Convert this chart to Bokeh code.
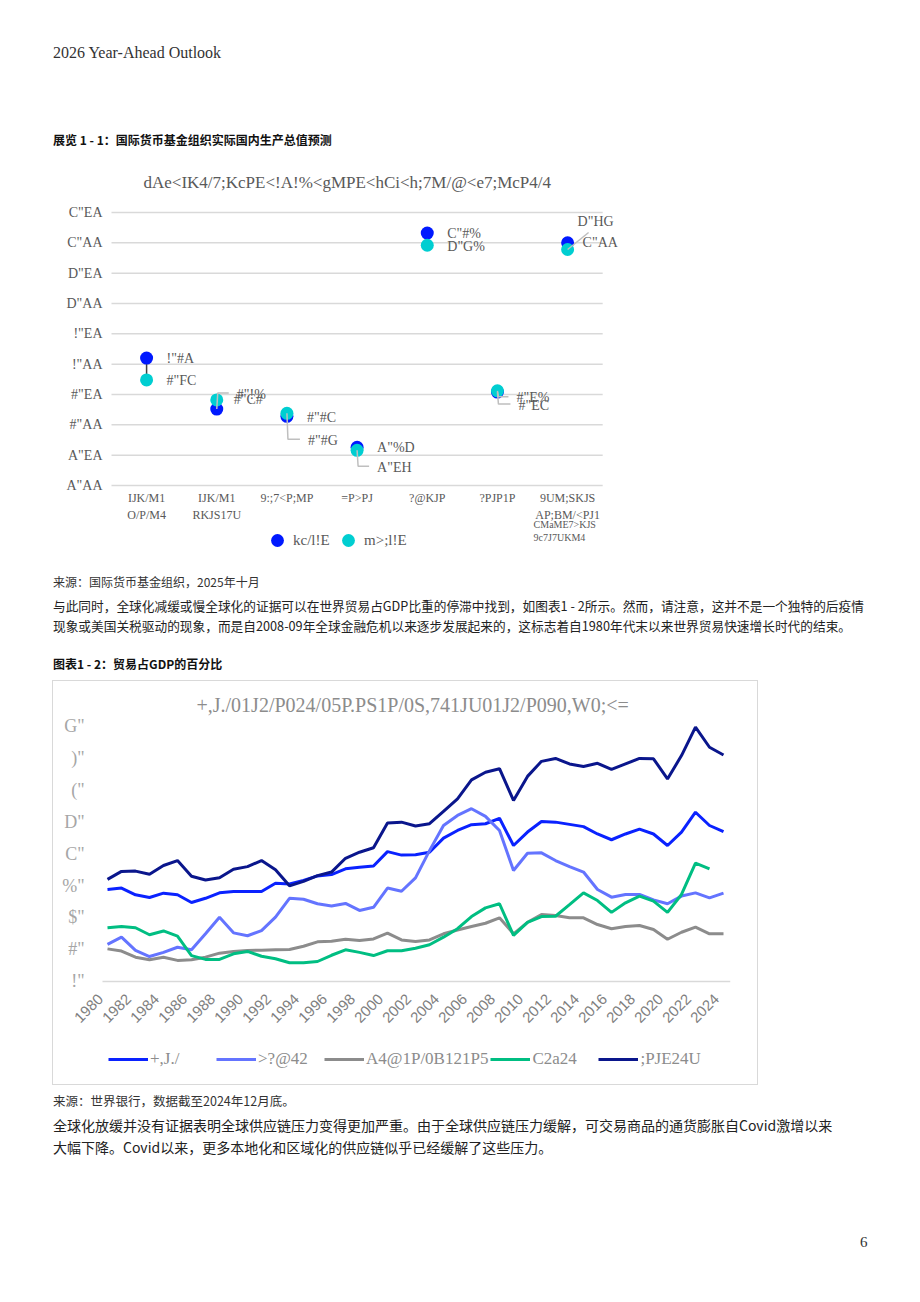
import math
from html import escape

from bokeh.core.properties import value
from bokeh.embed import file_html
from bokeh.layouts import column, row
from bokeh.models import (Div, FixedTicker, Legend, LegendItem, Range1d, Spacer,
                          Title)
from bokeh.plotting import figure
from bokeh.resources import INLINE

# ---------------------------------------------------------------------------
# Exhibit 1-1: IMF real GDP forecasts (two series per economy)
# ---------------------------------------------------------------------------
GDP_TITLE = 'dAe<IK4/7;KcPE<!A!%<gMPE<hCi<h;7M/@<e7;McP4/4'
GDP_CATEGORIES = ["IJK/M1\nO/P/M4", "IJK/M1\nRKJS17U", "9:;7<P;MP", "=P>PJ",
                  "?@KJP", "?PJP1P", "9UM;SKJS\nAP;BM/<PJ1"]
GDP_CATEGORY_NOTE = ["CMaME7>KJS", "9c7J7UKM4"]
GDP_SERIES_NAMES = ["kc/l!E", "m>;l!E"]
GDP_SERIES_A = [2.10, 1.26, 1.14, 0.63, 4.16, 1.54, 4.00]
GDP_SERIES_B = [1.74, 1.41, 1.19, 0.58, 3.96, 1.56, 3.89]
GDP_Y_TICKS = [0.0, 0.5, 1.0, 1.5, 2.0, 2.5, 3.0, 3.5, 4.0, 4.5]

# digits are shown through the report's symbol font encoding
DIGIT_GLYPHS = str.maketrans("0123456789.", 'A#!DCE%FHG"')


def glyph_number(v):
    return f"{v:.2f}".translate(DIGIT_GLYPHS)


# ---------------------------------------------------------------------------
# Exhibit 1-2: trade as a share of GDP
# ---------------------------------------------------------------------------
TRADE_TITLE = "+,J./01J2/P024/05P.PS1P/0S,741JU01J2/P090,W0;<="
YEARS = list(range(1980, 2025))
TRADE_NAMES = ["+,J./", ">?@42", "A4@1P/0B121P5", "C2a24", ";PJE24U"]
TRADE_SERIES_1 = [28.75, 29.2, 27.1, 26.25, 27.6, 27.1, 24.7, 26.0, 27.7, 28.1,
                  28.1, 28.1, 30.7, 30.5, 31.6, 33.0, 33.4, 35.2, 35.7, 36.1,
                  40.6, 39.5, 39.6, 40.4, 44.8, 47.2, 49.0, 49.3, 51.0, 42.5,
                  46.7, 50.0, 49.8, 49.1, 48.4, 46.1, 44.3, 46.1, 47.6, 46.1,
                  42.5, 46.7, 52.9, 48.75, 46.8]
TRADE_SERIES_2 = [11.6, 13.85, 9.7, 7.8, 9.1, 10.7, 9.9, 14.9, 20.1, 15.2,
                  14.3, 15.9, 20.1, 26.0, 25.7, 24.3, 23.6, 24.4, 22.2, 23.2,
                  29.2, 28.2, 32.4, 40.9, 48.75, 51.9, 54.0, 51.6, 47.2, 34.7,
                  40.1, 40.2, 37.8, 35.9, 34.2, 28.75, 26.35, 27.2, 27.2, 25.5,
                  24.3, 26.7, 27.7, 26.15, 27.6]
TRADE_SERIES_3 = [10.2, 9.5, 7.6, 6.8, 7.6, 6.6, 6.8, 7.6, 8.85, 9.4,
                  9.7, 9.8, 9.9, 10.0, 11.0, 12.4, 12.6, 13.2, 12.8, 13.3,
                  15.1, 13.0, 12.5, 13.0, 14.9, 16.1, 17.2, 18.2, 19.9, 14.9,
                  18.5, 20.9, 20.6, 19.9, 19.9, 17.8, 16.5, 17.2, 17.5, 16.25,
                  13.2, 15.4, 17.0, 14.9, 14.9]
TRADE_SERIES_4 = [16.8, 17.2, 16.8, 14.6, 15.8, 14.2, 8.1, 6.9, 6.9, 8.65,
                  9.4, 7.9, 7.1, 5.85, 5.85, 6.25, 8.2, 9.9, 9.1, 8.1,
                  9.6, 9.6, 10.4, 11.5, 13.85, 16.5, 20.3, 23.0, 24.3, 14.4,
                  18.5, 20.3, 20.4, 24.0, 27.7, 25.3, 21.6, 24.6, 26.7, 25.1,
                  21.6, 27.2, 37.0, 35.2]
TRADE_SERIES_5 = [31.9, 34.4, 34.5, 33.5, 36.25, 37.8, 32.9, 31.7, 32.4, 35.1,
                  35.9, 37.8, 34.9, 29.9, 31.3, 33.1, 34.2, 38.5, 40.4, 41.8,
                  49.5, 49.8, 48.6, 49.3, 53.2, 57.1, 63.0, 65.4, 66.5, 56.6,
                  64.1, 68.8, 69.7, 68.0, 67.2, 68.2, 66.3, 68.0, 69.7, 69.6,
                  63.3, 70.6, 79.5, 73.2, 70.8]
TRADE_Y_TICKS = [0, 10, 20, 30, 40, 50, 60, 70, 80]
TRADE_Y_LABELS = ['!"', '#"', '$"', '%"', 'C"', 'D"', '("', ')"', 'G"']
TRADE_X_TICKS = list(range(1980, 2025, 2))

# ---------------------------------------------------------------------------
# Page texts
# ---------------------------------------------------------------------------
PAGE_HEADER = "2026 Year-Ahead Outlook"
EXHIBIT_1_TITLE = "展览 1 - 1：国际货币基金组织实际国内生产总值预测"
EXHIBIT_1_SOURCE = "来源：国际货币基金组织，2025年十月"
PARAGRAPH_1 = ["与此同时，全球化减缓或慢全球化的证据可以在世界贸易占GDP比重的停滞中找到，如图表1 - 2所示。然而，请注意，这并不是一个独特的后疫情",
               "现象或美国关税驱动的现象，而是自2008-09年全球金融危机以来逐步发展起来的，这标志着自1980年代末以来世界贸易快速增长时代的结束。"]
EXHIBIT_2_TITLE = "图表1 - 2：贸易占GDP的百分比"
EXHIBIT_2_SOURCE = "来源：世界银行，数据截至2024年12月底。"
PARAGRAPH_2 = ["全球化放缓并没有证据表明全球供应链压力变得更加严重。由于全球供应链压力缓解，可交易商品的通货膨胀自Covid激增以来",
               "大幅下降。Covid以来，更多本地化和区域化的供应链似乎已经缓解了这些压力。"]
PAGE_NUMBER = "6"

W = 920
CJK = "Noto Sans CJK SC"
SERIF = "Liberation Serif"
PAGE_LEFT = 53           # left margin of the page body
CHART_W = 704            # width of each exhibit block
RULE = "#D9D9D9"


def text_block(height, lines):
    """Absolutely positioned lines of page text: (x, y_centre, text, size, bold, font, colour)."""
    parts = [f'<div style="position:relative;width:{W}px;height:{height}px;margin:0;padding:0;">']
    for x, y, s, size, bold, font, col in lines:
        parts.append(
            f'<div style="position:absolute;left:{x}px;top:{y - 10}px;height:20px;'
            f'line-height:20px;font-size:{size};font-weight:{"bold" if bold else "normal"};'
            f"font-family:'{font}';color:{col};white-space:nowrap;\">{escape(s)}</div>")
    parts.append("</div>")
    return Div(text="".join(parts), width=W, height=height, margin=0)


def rule(width, height):
    """A thin filled block used for the exhibit's frame."""
    return Div(text="", width=width, height=height, margin=0,
               styles={"background-color": RULE})


# --- top of page --------------------------------------------------------------
top = text_block(160, [
    (PAGE_LEFT, 53, PAGE_HEADER, "16px", False, SERIF, "#333333"),
    (PAGE_LEFT, 140, EXHIBIT_1_TITLE, "12px", True, CJK, "#111111"),
])

# --- Exhibit 1-1 ---------------------------------------------------------------
TEXT_GREY = "#595959"
BLUE = "#0019FF"
CYAN = "#00CED1"

G_H = 410
G_LEFT, G_RIGHT, G_TOP, G_BOTTOM = 49, 27, 40, 5
G_X0, G_X1 = -0.1283, 8.8214
G_Y0, G_Y1 = -1.3186, 4.6976
px_x = (CHART_W - G_LEFT - G_RIGHT) / (G_X1 - G_X0)
px_y = (G_H - G_TOP - G_BOTTOM) / (G_Y1 - G_Y0)

g = figure(width=CHART_W, height=G_H, x_range=Range1d(G_X0, G_X1), y_range=Range1d(G_Y0, G_Y1),
           output_backend="svg", toolbar_location=None, x_axis_type=None,
           min_border_left=G_LEFT, min_border_right=G_RIGHT,
           min_border_top=G_TOP, min_border_bottom=G_BOTTOM)
g.title = Title(text=GDP_TITLE, align="left", offset=41, standoff=18,
                text_font=SERIF, text_font_size="17px", text_font_style="normal",
                text_color=TEXT_GREY)
g.outline_line_color = None
g.grid.grid_line_color = None

centers = [i + 0.5 for i in range(len(GDP_CATEGORIES))]

# horizontal guides at each y tick, spanning the category band only
g.segment(x0=[0] * len(GDP_Y_TICKS), x1=[len(GDP_CATEGORIES)] * len(GDP_Y_TICKS),
          y0=GDP_Y_TICKS, y1=GDP_Y_TICKS, line_color=RULE, line_width=1.5)

# dumbbell connector between the two forecasts
g.segment(x0=centers, x1=centers, y0=GDP_SERIES_A, y1=GDP_SERIES_B,
          line_color="#404040", line_width=1.5)

ra = g.scatter(centers, GDP_SERIES_A, size=13, fill_color=BLUE, line_color=None)
rb = g.scatter(centers, GDP_SERIES_B, size=13, fill_color=CYAN, line_color=None)

# label placement (screen px from the point: left edge of text, vertical centre)
A_OFFSETS = [(20, 0), (20, -15), (20, 1), (20, 0), (20, 0), (21, 13), (15, 0)]
B_OFFSETS = [(20, 1), (17, 0), (21, 27), (20, 17), (20, 1), (19, 7), (10, -28)]


def leader(cx, cy, dx, dy, diagonal=False):
    """Polyline from a point towards the left end of its label (px offsets)."""
    if diagonal:
        pts = [(0, 0), (dx + 11, dy + 11)]
    else:
        pts = [(0, 0), (1, dy - 1), (dx - 8, dy - 1)]
    return ([cx + px / px_x for px, _ in pts], [cy - py / px_y for _, py in pts])


lead_x, lead_y = [], []
for i in (1, 5):
    xs, ys = leader(centers[i], GDP_SERIES_A[i], *A_OFFSETS[i])
    lead_x.append(xs)
    lead_y.append(ys)
for i in (2, 3, 5):
    xs, ys = leader(centers[i], GDP_SERIES_B[i], *B_OFFSETS[i])
    lead_x.append(xs)
    lead_y.append(ys)
xs, ys = leader(centers[6], GDP_SERIES_B[6], *B_OFFSETS[6], diagonal=True)
lead_x.append(xs)
lead_y.append(ys)
g.multi_line(lead_x, lead_y, line_color="#BFBFBF", line_width=1.5)

for vals, offs in ((GDP_SERIES_A, A_OFFSETS), (GDP_SERIES_B, B_OFFSETS)):
    g.text(x=centers, y=vals, text=[glyph_number(v) for v in vals],
           x_offset=[o[0] for o in offs], y_offset=[o[1] for o in offs],
           text_font=value(SERIF), text_font_size="14px", text_color=TEXT_GREY,
           text_baseline="middle", text_align="left")

# category names under the band
g.text(x=centers, y=[0] * len(centers), text=GDP_CATEGORIES, y_offset=5,
       text_font=value(SERIF), text_font_size="12px", text_color=TEXT_GREY,
       text_baseline="top", text_align="center", text_line_height=1.25)
g.text(x=[centers[-1]] * 2, y=[0, 0], text=GDP_CATEGORY_NOTE, x_offset=-34,
       y_offset=[39, 52], text_font=value(SERIF), text_font_size="10px",
       text_color=TEXT_GREY, text_baseline="middle", text_align="left")

g.yaxis.ticker = FixedTicker(ticks=GDP_Y_TICKS)
g.yaxis.major_label_overrides = {t: glyph_number(t) for t in GDP_Y_TICKS}
g.yaxis.axis_line_color = None
g.yaxis.major_tick_line_color = None
g.yaxis.minor_tick_line_color = None
g.yaxis.major_tick_out = 0
g.yaxis.major_label_standoff = 0
g.yaxis.major_label_text_font = SERIF
g.yaxis.major_label_text_font_size = "14px"
g.yaxis.major_label_text_color = TEXT_GREY

for name, rend, loc in ((GDP_SERIES_NAMES[0], ra, (159, 9)),
                        (GDP_SERIES_NAMES[1], rb, (230, 9))):
    g.add_layout(Legend(items=[LegendItem(label=name, renderers=[rend])], location=loc,
                        orientation="horizontal", padding=0, margin=0, spacing=0,
                        glyph_width=32, glyph_height=32, label_standoff=0,
                        label_text_font=SERIF, label_text_font_size="15px",
                        label_text_color=TEXT_GREY, background_fill_alpha=0,
                        border_line_color=None))

# --- middle text ----------------------------------------------------------------
mid = text_block(110, [
    (PAGE_LEFT, 12, EXHIBIT_1_SOURCE, "12px", False, CJK, "#333333"),
    (PAGE_LEFT, 36, PARAGRAPH_1[0], "12.7px", False, CJK, "#222222"),
    (PAGE_LEFT, 56, PARAGRAPH_1[1], "12.7px", False, CJK, "#222222"),
    (PAGE_LEFT, 94, EXHIBIT_2_TITLE, "12px", True, CJK, "#111111"),
])

# --- Exhibit 1-2 ---------------------------------------------------------------
T_H = 403
T_LEFT, T_RIGHT, T_TOP, T_BOTTOM = 0, 27, 37, 0
T_X0, T_X1 = 1976.143, 2024.5
T_Y0, T_Y1 = -32.19, 82.19
BASELINE_FROM = 1979.643      # zero rule starts just before the first year
TRADE_COLORS = ["#0A22FF", "#6474FF", "#8C8C8C", "#00BE82", "#0A168C"]

t = figure(width=CHART_W, height=T_H, x_range=Range1d(T_X0, T_X1), y_range=Range1d(T_Y0, T_Y1),
           output_backend="svg", toolbar_location=None, x_axis_type=None,
           min_border_left=T_LEFT, min_border_right=T_RIGHT,
           min_border_top=T_TOP, min_border_bottom=T_BOTTOM)
t.title = Title(text=TRADE_TITLE, align="left", offset=143, standoff=6,
                text_font=SERIF, text_font_size="20px", text_font_style="normal",
                text_color="#8C8C8C")
t.outline_line_color = None
t.grid.grid_line_color = None

# zero baseline
t.segment(x0=[BASELINE_FROM], x1=[T_X1], y0=[0], y1=[0], line_color=RULE, line_width=1.5)

series = [TRADE_SERIES_1, TRADE_SERIES_2, TRADE_SERIES_3, TRADE_SERIES_4, TRADE_SERIES_5]
trade_renderers = []
for vals, col in zip(series, TRADE_COLORS):
    trade_renderers.append(t.line(YEARS[:len(vals)], vals, line_color=col, line_width=3))

# slanted year labels under the baseline
t.text(x=TRADE_X_TICKS, y=[0] * len(TRADE_X_TICKS), text=[str(y) for y in TRADE_X_TICKS],
       angle=math.pi / 4, x_offset=-7, y_offset=15, text_align="right",
       text_baseline="middle", text_font=value("Liberation Sans"),
       text_font_size="15px", text_color="#7F7F7F")

# value axis labels sit inside the exhibit frame, left of the plotted years
t.yaxis.ticker = FixedTicker(ticks=TRADE_Y_TICKS)
t.yaxis.major_label_overrides = dict(zip(TRADE_Y_TICKS, TRADE_Y_LABELS))
t.yaxis.axis_line_color = None
t.yaxis.major_tick_line_color = None
t.yaxis.minor_tick_line_color = None
t.yaxis.major_tick_out = 0
t.yaxis.major_label_standoff = -31
t.yaxis.major_label_text_font = SERIF
t.yaxis.major_label_text_font_size = "18px"
t.yaxis.major_label_text_color = "#A6A6A6"

t.add_layout(Legend(items=[LegendItem(label=n, renderers=[r])
                           for n, r in zip(TRADE_NAMES, trade_renderers)],
                    location=(55, 15), orientation="horizontal", margin=0, padding=0,
                    spacing=2, glyph_width=40, glyph_height=20, label_standoff=2,
                    label_width=64, label_text_font=SERIF, label_text_font_size="17px",
                    label_text_color="#8C8C8C", background_fill_alpha=0,
                    border_line_color=None))

# exhibit frame: thin rules around the chart
framed_chart = row(Spacer(width=PAGE_LEFT - 1),
                   rule(1, T_H + 2),
                   column(rule(CHART_W, 1), t, rule(CHART_W, 1), spacing=0),
                   rule(1, T_H + 2), spacing=0)

# --- bottom text ----------------------------------------------------------------
bot = text_block(215, [
    (PAGE_LEFT, 16, EXHIBIT_2_SOURCE, "12.5px", False, CJK, "#333333"),
    (PAGE_LEFT, 40, PARAGRAPH_2[0], "14px", False, CJK, "#222222"),
    (PAGE_LEFT, 62, PARAGRAPH_2[1], "14px", False, CJK, "#222222"),
    (860, 157, PAGE_NUMBER, "15px", False, SERIF, "#333333"),
])

page = column(top,
              row(Spacer(width=PAGE_LEFT), g, spacing=0),
              mid,
              framed_chart,
              bot, spacing=0)
open("out.html", "w").write(file_html(page, INLINE))
